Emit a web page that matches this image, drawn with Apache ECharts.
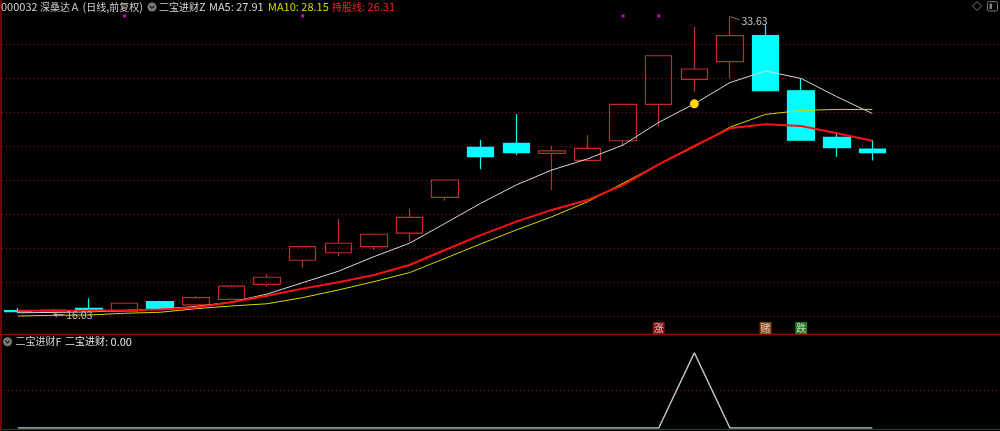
<!DOCTYPE html>
<html>
<head>
<meta charset="utf-8">
<title>000032 深桑达Ａ 日线</title>
<script src="https://cdn.jsdelivr.net/npm/echarts@6/dist/echarts.min.js"></script>
<style>
  html, body { margin: 0; padding: 0; background: #000; }
  #main { width: 1000px; height: 431px; }
</style>
</head>
<body>
<div id="main"></div>
<script>
// 25 trading days on screen, 3 empty slots to the right
const days = Array.from({ length: 28 }, (_, i) => 'D' + (i + 1))

// [open, close, low, high]
const candles = [
  [16.32, 16.26, 16.18, 16.47],
  [16.30, 16.35, 16.03, 16.42],
  [16.45, 16.35, 16.30, 17.04],
  [16.27, 16.75, 16.22, 16.78],
  [16.84, 16.41, 16.35, 16.90],
  [16.65, 17.08, 16.60, 17.18],
  [16.98, 17.76, 16.95, 17.82],
  [17.86, 18.28, 17.71, 18.47],
  [19.28, 20.08, 18.84, 20.10],
  [19.72, 20.28, 19.53, 21.71],
  [20.08, 20.81, 19.88, 20.85],
  [20.88, 21.80, 20.37, 22.33],
  [22.98, 24.00, 22.78, 24.02],
  [25.92, 25.37, 24.63, 26.35],
  [26.16, 25.61, 25.45, 27.88],
  [25.57, 25.71, 23.41, 26.02],
  [25.16, 25.86, 25.10, 26.65],
  [26.31, 28.45, 26.00, 28.47],
  [28.45, 31.31, 27.14, 31.33],
  [29.92, 30.53, 29.19, 33.02],
  [30.96, 32.49, 29.98, 33.63],
  [32.49, 29.25, 29.25, 33.12],
  [29.25, 26.34, 26.34, 29.94],
  [26.51, 25.90, 25.37, 26.78],
  [25.82, 25.61, 25.14, 26.35]
]

const ma5 = [16.19, 16.21, 16.24, 16.32, 16.41, 16.56, 16.82, 17.29, 17.96, 18.63,
  19.49, 20.28, 21.45, 22.63, 23.71, 24.59, 25.24, 26.06, 27.39, 28.48,
  29.73, 30.41, 29.97, 28.90, 27.91]
const ma10 = [16.00, 16.04, 16.06, 16.16, 16.22, 16.43, 16.59, 16.72, 17.08, 17.53,
  18.02, 18.55, 19.39, 20.24, 21.06, 21.84, 22.72, 23.81, 24.92, 25.95,
  27.11, 27.86, 28.09, 28.15, 28.15]
const holdLine = [16.31, 16.31, 16.32, 16.34, 16.38, 16.50, 16.81, 17.19, 17.61, 17.98,
  18.41, 19.00, 19.88, 20.76, 21.55, 22.24, 22.82, 23.71, 24.92, 26.00,
  27.04, 27.28, 27.18, 26.75, 26.31]

// 二宝进财 sub-indicator
const signal = [0, 0, 0, 0, 0, 0, 0, 0, 0, 0, 0, 0, 0, 0, 0, 0, 0, 0, 0, 1, 0, 0, 0, 0, 0]

// magenta dots along the top
const topDotIdx = [3, 8, 17, 18]
const topDotPrice = 33.65

// boxed signal words under the candles
const tagIdx = [18, 21, 22]
const tagText = ['涨', '赌', '跌']
const tagColor = ['#a3181c', '#a8561c', '#1f9a22']
const tagPrice = 15.29

// price grid lines: 16 .. 32 every 2
const gridMin = 16
const gridMax = 32
const gridStep = 2

const highIdx = 20
const lowIdx = 1
const dotIdx = 19

const FONT = '"Noto Sans CJK SC", "Noto Sans", sans-serif'
const dotted = { color: '#9a1212', type: [1, 3], width: 1 }
const last = arr => arr[arr.length - 1].toFixed(2)

// latin at 11px, CJK a bit smaller like the terminal font
const rich = color => ({
  n: { fontSize: 11, fontFamily: FONT, color },
  c: { fontSize: 10, fontFamily: FONT, color }
})
const legendText = (text, x, y, color) => ({
  type: 'text',
  silent: true,
  style: { text, x, y, fill: color, verticalAlign: 'middle', rich: rich(color) }
})

const chart = echarts.init(document.getElementById('main'))

const option = {
  backgroundColor: '#000',
  animation: false,
  grid: [
    { left: -3, right: 3, top: 1.5, height: 331.5 },
    { left: 2, right: 0, top: 44, height: 272 },
    { left: -3, right: 3, top: 352.7, height: 75.3 }
  ],
  xAxis: [
    { type: 'category', gridIndex: 0, data: days, show: false },
    { type: 'category', gridIndex: 1, data: days, show: false },
    { type: 'category', gridIndex: 2, data: days, show: false }
  ],
  yAxis: [
    { type: 'value', gridIndex: 0, min: 15, max: 34.5, show: false },
    {
      type: 'value', gridIndex: 1, min: gridMin, max: gridMax, interval: gridStep,
      axisLine: { show: false }, axisTick: { show: false }, axisLabel: { show: false },
      splitLine: { show: true, lineStyle: dotted }
    },
    {
      type: 'value', gridIndex: 2, min: 0, max: 1, interval: 0.5,
      axisLine: { show: false }, axisTick: { show: false }, axisLabel: { show: false },
      splitLine: { show: true, showMinLine: false, showMaxLine: false, lineStyle: dotted }
    }
  ],
  series: [
    {
      name: 'K',
      type: 'candlestick',
      xAxisIndex: 0,
      yAxisIndex: 0,
      data: candles,
      barWidth: 27,
      silent: true,
      itemStyle: {
        color: 'transparent',
        color0: '#00ffff',
        borderColor: '#c02c2c',
        borderColor0: '#00ffff',
        borderWidth: 1.2
      },
      markPoint: {
        silent: true,
        data: [
          {
            coord: [days[highIdx], candles[highIdx][3]],
            symbol: 'path://M0,0L10,4L10,5L0,1Z',
            symbolSize: [9, 4],
            symbolOffset: [5, 2],
            itemStyle: { color: '#a0a0a0' },
            label: {
              show: true, position: 'right', distance: 2, offset: [0, 3],
              formatter: candles[highIdx][3].toFixed(2),
              color: '#c8c8c8', fontSize: 10.5, fontFamily: FONT
            }
          },
          {
            coord: [days[lowIdx], candles[lowIdx][2]],
            symbol: 'circle',
            symbolSize: 0,
            label: {
              show: true, position: 'right', distance: 0,
              formatter: '← ' + candles[lowIdx][2].toFixed(2),
              color: '#c0c0c0', fontSize: 10.5, fontFamily: FONT
            }
          }
        ]
      }
    },
    {
      name: 'MA5', type: 'line', xAxisIndex: 0, yAxisIndex: 0, data: ma5,
      symbol: 'none', silent: true,
      lineStyle: { color: '#d8d8d8', width: 1 },
      markPoint: {
        silent: true,
        data: [{
          coord: [days[dotIdx], ma5[dotIdx]],
          symbol: 'circle', symbolSize: 9,
          itemStyle: { color: '#ffd400' },
          label: { show: false }
        }]
      }
    },
    {
      name: 'MA10', type: 'line', xAxisIndex: 0, yAxisIndex: 0, data: ma10,
      symbol: 'none', silent: true,
      lineStyle: { color: '#d6d600', width: 1 }
    },
    {
      name: '持股线', type: 'line', xAxisIndex: 0, yAxisIndex: 0, data: holdLine,
      symbol: 'none', silent: true,
      lineStyle: { color: '#ff1010', width: 2 }
    },
    {
      type: 'scatter', xAxisIndex: 0, yAxisIndex: 0, silent: true,
      data: topDotIdx.map(i => [days[i], topDotPrice]),
      symbol: 'rect', symbolSize: 3,
      itemStyle: { color: '#ff00ff' }
    },
    {
      type: 'scatter', xAxisIndex: 0, yAxisIndex: 0, silent: true,
      data: tagIdx.map((i, k) => ({
        value: [days[i], tagPrice],
        itemStyle: { color: tagColor[k] },
        label: { formatter: tagText[k] }
      })),
      symbol: 'rect', symbolSize: 12,
      label: { show: true, position: 'inside', color: '#f4e8e8', fontSize: 10, fontFamily: FONT }
    },
    {
      name: '二宝进财', type: 'line', xAxisIndex: 2, yAxisIndex: 2, data: signal,
      symbol: 'none', silent: true,
      lineStyle: { color: '#c4c4c4', width: 1.5 }
    }
  ],
  graphic: [
    // frame
    { type: 'line', silent: true, shape: { x1: 1, y1: 0, x2: 1, y2: 431 }, style: { stroke: '#8c0c0c', lineWidth: 1.5 } },
    { type: 'line', silent: true, shape: { x1: 0, y1: 334.5, x2: 1000, y2: 334.5 }, style: { stroke: '#8c0c0c', lineWidth: 1.5 } },
    { type: 'line', silent: true, shape: { x1: 0, y1: 429.5, x2: 1000, y2: 429.5 }, style: { stroke: '#8c0c0c', lineWidth: 1 } },

    // top legend
    legendText('{n|000032 }{c|深桑达Ａ}{n| (}{c|日线}{n|,}{c|前复权}{n|)}', 1, 7, '#d0d0d0'),
    { type: 'circle', silent: true, shape: { cx: 152, cy: 7, r: 4.5 }, style: { fill: '#7a7a7a' } },
    { type: 'polyline', silent: true, shape: { points: [[149.8, 6], [152, 8.2], [154.2, 6]] }, style: { stroke: '#1a1a1a', lineWidth: 1.2, fill: null } },
    legendText('{c|二宝进财}{n|Z}', 159, 7, '#d8d8d8'),
    legendText('{n|MA5: ' + last(ma5) + '}', 209, 7, '#d8d8d8'),
    legendText('{n|MA10: ' + last(ma10) + '}', 268, 7, '#d6d600'),
    legendText('{c|持股线}{n|: ' + last(holdLine) + '}', 332, 7, '#ff2020'),

    // top-right icons
    { type: 'polygon', silent: true, shape: { points: [[977, 1.5], [981.5, 6], [977, 10.5], [972.5, 6]] }, style: { stroke: '#7c7c7c', fill: null, lineWidth: 1 } },
    { type: 'rect', silent: true, shape: { x: 987.5, y: 1.5, width: 10, height: 9.5, r: 2 }, style: { stroke: '#7c7c7c', fill: null, lineWidth: 1 } },
    { type: 'rect', silent: true, shape: { x: 989.5, y: 3.5, width: 2.5, height: 5.5 }, style: { fill: '#7c7c7c' } },

    // sub-chart legend
    { type: 'circle', silent: true, shape: { cx: 7.5, cy: 341.7, r: 4.5 }, style: { fill: '#7a7a7a' } },
    { type: 'polyline', silent: true, shape: { points: [[5.3, 340.7], [7.5, 342.9], [9.7, 340.7]] }, style: { stroke: '#1a1a1a', lineWidth: 1.2, fill: null } },
    legendText('{c|二宝进财}{n|F}', 15.5, 341.7, '#d8d8d8'),
    legendText('{c|二宝进财}{n|: ' + last(signal) + '}', 65, 341.7, '#e8e8e8')
  ]
}

chart.setOption(option)
</script>
</body>
</html>
